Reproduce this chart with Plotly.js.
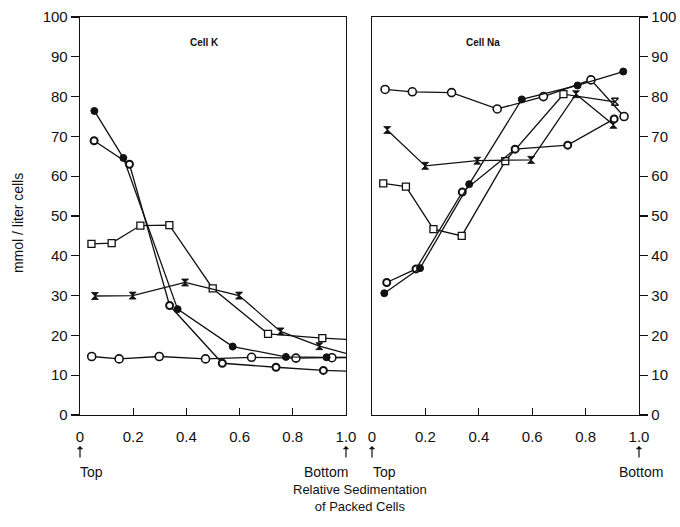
<!DOCTYPE html>
<html>
<head>
<meta charset="utf-8">
<script src="https://cdn.plot.ly/plotly-3.0.1.min.js"></script>
<style>html,body{margin:0;padding:0;background:#fff;}#chart{width:680px;height:527px;}</style>
</head>
<body>
<div id="chart"></div>
<script>
// ---- tick labels ----
const xTickVals = [0, 0.2, 0.4, 0.6, 0.8, 1.0];
const xTickText = ['0', '0.2', '0.4', '0.6', '0.8', '1.0'];
const yTickVals = [0, 10, 20, 30, 40, 50, 60, 70, 80, 90, 100];

// ---- Cell K (left panel) ----
const kFilledX = [0.054, 0.163, 0.367, 0.574, 0.774, 0.927];
const kFilledY = [76.4, 64.6, 26.6, 17.2, 14.6, 14.5];
const kHalfX = [0.053, 0.186, 0.337, 0.535, 0.737, 0.915];
const kHalfY = [68.9, 63.0, 27.5, 13.0, 12.0, 11.2];
const kOpenX = [0.044, 0.147, 0.298, 0.472, 0.645, 0.812, 0.947];
const kOpenY = [14.7, 14.1, 14.7, 14.1, 14.5, 14.3, 14.4];
const kSquareX = [0.043, 0.119, 0.227, 0.336, 0.499, 0.707, 0.911];
const kSquareY = [43.0, 43.2, 47.6, 47.7, 31.8, 20.4, 19.3];
const kCrossX = [0.056, 0.198, 0.395, 0.598, 0.754, 0.900];
const kCrossY = [29.9, 30.0, 33.3, 30.0, 21.0, 17.3];
// values where each line leaves the panel at x = 1.0
const kTailX = 1.0;
const kTailY = {filled: 14.5, half: 11.0, open: 14.4, square: 19.0, cross: 15.5};

// ---- Cell Na (right panel) ----
const naOpenX = [0.049, 0.151, 0.298, 0.469, 0.642, 0.820, 0.944];
const naOpenY = [81.8, 81.2, 81.0, 76.9, 80.0, 84.2, 75.0];
const naFilledX = [0.046, 0.180, 0.364, 0.561, 0.770, 0.941];
const naFilledY = [30.6, 36.9, 58.0, 79.3, 82.8, 86.3];
const naHalfX = [0.055, 0.165, 0.338, 0.536, 0.733, 0.907];
const naHalfY = [33.3, 36.7, 56.0, 66.8, 67.8, 74.4];
const naSquareX = [0.042, 0.127, 0.230, 0.336, 0.499, 0.717, 0.910];
const naSquareY = [58.2, 57.4, 46.7, 45.0, 63.8, 80.6, 78.7];
const naCrossX = [0.057, 0.199, 0.394, 0.596, 0.764, 0.904];
const naCrossY = [71.6, 62.6, 63.9, 64.1, 80.6, 72.9];

const FONT = 'Liberation Sans, Arial, Helvetica, sans-serif';
const LINE = {color: '#111', width: 1.3};

const styles = {
  filled: {symbol: 'circle', size: 7, color: '#111', line: {color: '#111', width: 1}},
  half:   {symbol: 'circle', size: 7, color: '#fff', line: {color: '#111', width: 2}},
  open:   {symbol: 'circle', size: 8, color: '#fff', line: {color: '#111', width: 1.6}},
  square: {symbol: 'square', size: 7, color: '#fff', line: {color: '#111', width: 1.3}},
  cross:  {symbol: 'hourglass', size: 7, color: '#111', line: {color: '#111', width: 0.8}}
};

function series(x, y, style, xa, ya, symbolOverride) {
  const marker = Object.assign({}, style);
  if (symbolOverride) marker.symbol = symbolOverride;
  return {x: x, y: y, type: 'scatter', mode: 'lines+markers', xaxis: xa, yaxis: ya,
          line: LINE, marker: marker, showlegend: false, hoverinfo: 'x+y'};
}
function tail(x, y, key) {
  return {x: [x[x.length - 1], kTailX], y: [y[y.length - 1], kTailY[key]], type: 'scatter',
          mode: 'lines', xaxis: 'x', yaxis: 'y', line: LINE, showlegend: false, hoverinfo: 'skip'};
}

// last square point on the Na panel is printed with a cross-like glyph
const naSquareSymbols = naSquareX.map((_, i) => i === naSquareX.length - 1 ? 'hourglass' : 'square');

const data = [
  tail(kSquareX, kSquareY, 'square'),
  tail(kCrossX, kCrossY, 'cross'),
  tail(kOpenX, kOpenY, 'open'),
  tail(kHalfX, kHalfY, 'half'),
  tail(kFilledX, kFilledY, 'filled'),
  series(kSquareX, kSquareY, styles.square, 'x', 'y'),
  series(kCrossX, kCrossY, styles.cross, 'x', 'y'),
  series(kOpenX, kOpenY, styles.open, 'x', 'y'),
  series(kHalfX, kHalfY, styles.half, 'x', 'y'),
  series(kFilledX, kFilledY, styles.filled, 'x', 'y'),
  series(naSquareX, naSquareY, styles.square, 'x2', 'y2', naSquareSymbols),
  series(naCrossX, naCrossY, styles.cross, 'x2', 'y2'),
  series(naHalfX, naHalfY, styles.half, 'x2', 'y2'),
  series(naOpenX, naOpenY, styles.open, 'x2', 'y2'),
  series(naFilledX, naFilledY, styles.filled, 'x2', 'y2')
];

const tickFont = {family: FONT, size: 15, color: '#111'};
const baseX = {range: [0, 1], tickvals: xTickVals, ticktext: xTickText, ticks: 'inside', ticklen: 7,
  tickwidth: 1.2, tickcolor: '#111', showline: true, linecolor: '#111', linewidth: 1.3, mirror: true,
  showgrid: false, zeroline: false, tickfont: tickFont, ticklabelstandoff: 8, fixedrange: true};
const baseY = {range: [0, 100], tickvals: yTickVals, ticklen: 8, tickwidth: 1.2, tickcolor: '#111',
  showline: true, linecolor: '#111', linewidth: 1.3, mirror: true, showgrid: false, zeroline: false,
  tickfont: tickFont, fixedrange: true};
const innerY = {range: [0, 100], tickvals: yTickVals, ticks: 'inside', ticklen: 7, tickwidth: 1.2,
  tickcolor: '#111', showticklabels: false, showline: false, showgrid: false, zeroline: false, fixedrange: true};

function arrow(xref, x) {
  return {xref: xref, x: x, yref: 'paper', y: -0.078, text: '', showarrow: true, ax: 0, ay: 13,
          arrowhead: 1, arrowsize: 0.9, arrowwidth: 1.2, arrowcolor: '#111'};
}
function word(xref, x, text, anchor, shift) {
  return {xref: xref, x: x, yref: 'paper', y: -0.143, text: text, showarrow: false, xanchor: anchor,
          yanchor: 'middle', xshift: shift, font: {family: FONT, size: 14, color: '#111'}};
}

const layout = {
  width: 680, height: 527,
  margin: {l: 80, r: 41, t: 17, b: 112},
  paper_bgcolor: '#fff', plot_bgcolor: '#fff',
  font: {family: FONT, color: '#111'},
  xaxis: Object.assign({}, baseX, {domain: [0, 0.4758], anchor: 'y'}),
  xaxis2: Object.assign({}, baseX, {domain: [0.5224, 1], anchor: 'y2'}),
  yaxis: Object.assign({}, baseY, {anchor: 'x', side: 'left', ticks: 'outside'}),
  yaxis3: Object.assign({}, innerY, {overlaying: 'y', anchor: 'x', side: 'right'}),
  yaxis2: Object.assign({}, baseY, {anchor: 'x2', side: 'right', ticks: 'outside'}),
  yaxis4: Object.assign({}, innerY, {overlaying: 'y2', anchor: 'x2', side: 'left'}),
  annotations: [
    {xref: 'paper', yref: 'paper', x: -0.111, y: 0.482, text: 'mmol / liter cells', textangle: -90,
     showarrow: false, xanchor: 'center', yanchor: 'middle', font: {family: FONT, size: 14, color: '#111'}},
    {xref: 'paper', yref: 'paper', x: 0.2236, y: 0.9347, text: '<b>Cell K</b>', showarrow: false,
     xanchor: 'center', yanchor: 'middle', font: {family: FONT, size: 10, color: '#111'}},
    {xref: 'paper', yref: 'paper', x: 0.721, y: 0.9347, text: '<b>Cell Na</b>', showarrow: false,
     xanchor: 'center', yanchor: 'middle', font: {family: FONT, size: 10, color: '#111'}},
    arrow('x', 0), arrow('x', 1), arrow('x2', 0), arrow('x2', 1),
    word('x', 0, 'Top', 'left', -2),
    word('x', 1, 'Bottom', 'right', 4),
    word('x2', 0, 'Top', 'left', -1),
    word('x2', 1, 'Bottom', 'center', 2),
    {xref: 'paper', yref: 'paper', x: 0.5, y: -0.2085, text: 'Relative Sedimentation<br>of Packed Cells',
     showarrow: false, xanchor: 'center', yanchor: 'middle', font: {family: FONT, size: 13, color: '#111'}}
  ]
};

Plotly.newPlot('chart', data, layout, {displayModeBar: false, staticPlot: true});
</script>
</body>
</html>
